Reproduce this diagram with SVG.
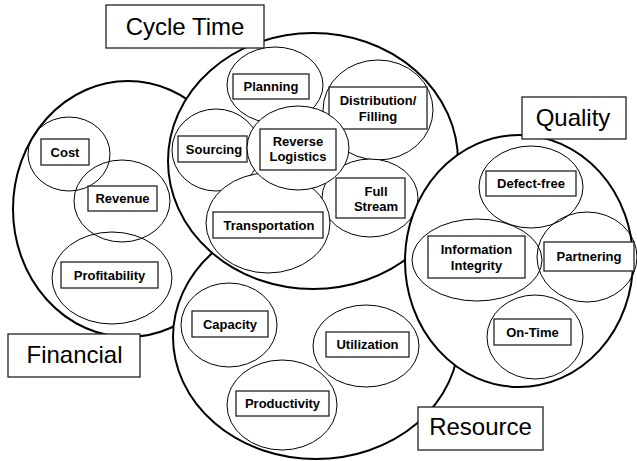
<svg xmlns="http://www.w3.org/2000/svg" width="637" height="461" viewBox="0 0 637 461">
<style>
.big{fill:#fff;stroke:#000;stroke-width:2}
.in{fill:none;stroke:#000;stroke-width:1}
.inw{fill:#fff;stroke:#000;stroke-width:1}
.box{fill:#fff;stroke:#222;stroke-width:1.3}
.t{font-family:"Liberation Sans",Arial,sans-serif;font-weight:bold;font-size:13px;text-anchor:middle;fill:#000}
.T{font-family:"Liberation Sans",Arial,sans-serif;font-size:24px;text-anchor:middle;fill:#000}
</style>
<rect width="637" height="461" fill="#fff"/>
<g id="financial">
<ellipse class="big" cx="128" cy="209" rx="115" ry="128"/>
<g id="cost"><ellipse class="in" cx="69" cy="154" rx="41" ry="37"/><rect class="box" x="41" y="139" width="48" height="26"/><text class="t" x="65" y="156.5">Cost</text></g>
<g id="revenue"><ellipse class="in" cx="122" cy="201" rx="48" ry="41"/><rect class="box" x="88" y="186" width="69" height="25"/><text class="t" x="122.5" y="203">Revenue</text></g>
<g id="profitability"><ellipse class="in" cx="112" cy="278" rx="60" ry="46"/><rect class="box" x="61" y="262" width="97" height="26"/><text class="t" x="109.5" y="279.5">Profitability</text></g>
</g>
<g id="resource">
<ellipse class="big" cx="316" cy="337" rx="143" ry="122"/>
<g id="capacity"><ellipse class="in" cx="229" cy="325" rx="48" ry="42"/><rect class="box" x="192" y="311" width="76" height="26"/><text class="t" x="230" y="328.5">Capacity</text></g>
<g id="utilization"><ellipse class="in" cx="366" cy="346" rx="53" ry="41"/><rect class="box" x="326" y="332" width="83" height="25"/><text class="t" x="367.5" y="349">Utilization</text></g>
<g id="productivity"><ellipse class="in" cx="282" cy="405" rx="55" ry="45"/><rect class="box" x="236" y="391" width="93" height="25"/><text class="t" x="282.5" y="408">Productivity</text></g>
</g>
<g id="cycle-time">
<ellipse class="big" cx="313" cy="161" rx="145" ry="128"/>
<g id="planning"><ellipse class="inw" cx="275" cy="85" rx="48" ry="38"/><rect class="box" x="233" y="74" width="76" height="25"/><text class="t" x="271" y="91">Planning</text></g>
<g id="distribution"><ellipse class="inw" cx="378" cy="110" rx="55" ry="50"/><rect class="box" x="329" y="87" width="98" height="42"/><text class="t" x="378" y="105">Distribution/</text><text class="t" x="378" y="121">Filling</text></g>
<g id="sourcing"><ellipse class="inw" cx="216" cy="150" rx="44" ry="41"/><rect class="box" x="178" y="136" width="69" height="26"/><text class="t" x="214" y="153.5">Sourcing</text></g>
<g id="full-stream"><ellipse class="inw" cx="370" cy="198" rx="48" ry="39"/><rect class="box" x="336" y="178" width="69" height="40"/><text class="t" x="376" y="196">Full</text><text class="t" x="376" y="211">Stream</text></g>
<g id="transportation"><ellipse class="inw" cx="268" cy="223" rx="62" ry="50"/><rect class="box" x="213" y="212" width="110" height="26"/><text class="t" x="269" y="229.5">Transportation</text></g>
<g id="reverse-logistics"><ellipse class="inw" cx="298" cy="148" rx="51" ry="42"/><rect class="box" x="260" y="129" width="76" height="41"/><text class="t" x="298" y="146">Reverse</text><text class="t" x="298" y="161">Logistics</text></g>
</g>
<g id="quality">
<ellipse class="big" cx="519" cy="261" rx="114" ry="126"/>
<g id="defect-free"><ellipse class="in" cx="531" cy="187" rx="52" ry="41"/><rect class="box" x="486" y="171" width="90" height="25"/><text class="t" x="531" y="188">Defect-free</text></g>
<g id="information-integrity"><ellipse class="in" cx="477" cy="260" rx="65" ry="41"/><rect class="box" x="428" y="236" width="97" height="42"/><text class="t" x="476.5" y="254">Information</text><text class="t" x="476.5" y="270">Integrity</text></g>
<g id="partnering"><ellipse class="in" cx="587" cy="257" rx="50" ry="45"/><rect class="box" x="544" y="242" width="90" height="29"/><text class="t" x="589" y="261">Partnering</text></g>
<g id="on-time"><ellipse class="in" cx="535" cy="337" rx="48" ry="42"/><rect class="box" x="494" y="319" width="77" height="26"/><text class="t" x="532.5" y="336.5">On-Time</text></g>
</g>
<g id="connectors"/>
<g id="labels">
<g id="cycle-time-label"><rect class="box" x="106" y="5" width="158" height="43"/><text class="T" x="185" y="35">Cycle Time</text></g>
<g id="quality-label"><rect class="box" x="522" y="97" width="104" height="42"/><text class="T" x="573" y="126">Quality</text></g>
<g id="financial-label"><rect class="box" x="8" y="334" width="132" height="43"/><text class="T" x="74.5" y="363">Financial</text></g>
<g id="resource-label"><rect class="box" x="418" y="407" width="125" height="43"/><text class="T" x="480.5" y="435">Resource</text></g>
</g>
</svg>
